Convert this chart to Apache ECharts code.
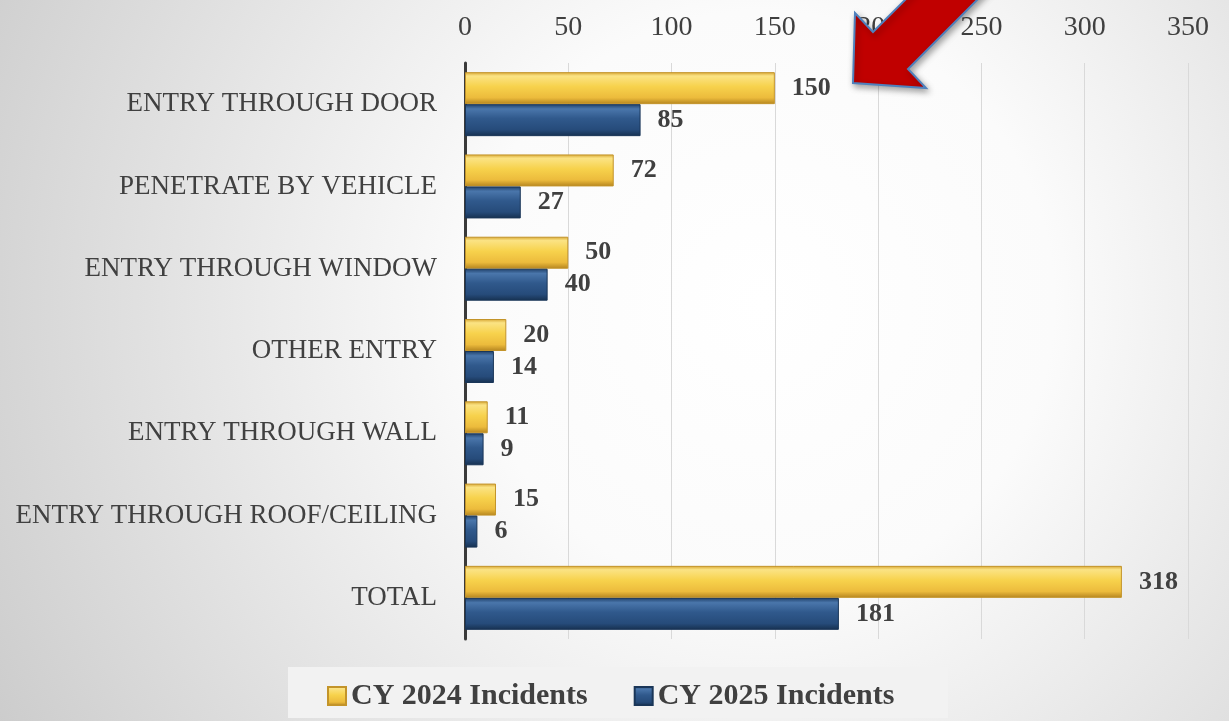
<!DOCTYPE html>
<html>
<head>
<meta charset="utf-8">
<script src="https://cdn.jsdelivr.net/npm/echarts@6/dist/echarts.min.js"></script>
<style>
  html, body { margin: 0; padding: 0; }
  #chart { width: 1229px; height: 721px; }
</style>
</head>
<body>
<div id="chart"></div>
<script>
const categories = [
  "ENTRY THROUGH DOOR",
  "PENETRATE BY VEHICLE",
  "ENTRY THROUGH WINDOW",
  "OTHER ENTRY",
  "ENTRY THROUGH WALL",
  "ENTRY THROUGH ROOF/CEILING",
  "TOTAL",
];
const cy2024 = [150, 72, 50, 20, 11, 15, 318];
const cy2025 = [85, 27, 40, 14, 9, 6, 181];
const seriesNames = ["CY 2024 Incidents", "CY 2025 Incidents"];

const FONT = "Liberation Serif";
const TEXT = "#404040";

const vGrad = (stops) => ({
  type: "linear", x: 0, y: 0, x2: 0, y2: 1,
  colorStops: stops.map(([offset, color]) => ({ offset, color })),
});

const gold = vGrad([
  [0, "#d6a532"], [0.12, "#fbe384"], [0.45, "#f7d24c"],
  [0.8, "#ecbb3c"], [1, "#b4841f"],
]);
const navy = vGrad([
  [0, "#1f3f68"], [0.15, "#4a76ab"], [0.45, "#30598c"],
  [0.8, "#264b7a"], [1, "#16304f"],
]);

const chartDom = document.getElementById("chart");
const myChart = echarts.init(chartDom);

const labelStyle = {
  show: true,
  position: "right",
  distance: 17,
  fontFamily: FONT,
  fontWeight: "bold",
  fontSize: 26,
  color: TEXT,
};

myChart.setOption({
  backgroundColor: {
    type: "radial", x: 0.62, y: 0.42, r: 1.35,
    colorStops: [
      { offset: 0, color: "#ffffff" },
      { offset: 0.3, color: "#fbfbfb" },
      { offset: 1, color: "#c4c4c4" },
    ],
  },
  animation: false,
  grid: { left: 465, right: 41, top: 63, bottom: 82 },
  legend: {
    data: seriesNames,
    top: 676,
    left: 322,
    icon: "rect",
    itemWidth: 18,
    itemHeight: 18,
    itemGap: 46,
    textStyle: { fontFamily: FONT, fontWeight: "bold", fontSize: 30, color: TEXT },
  },
  xAxis: {
    type: "value",
    position: "top",
    min: 0,
    max: 350,
    interval: 50,
    axisLine: { show: false },
    axisTick: { show: false },
    axisLabel: { fontFamily: FONT, fontSize: 28, color: TEXT, margin: 21 },
    splitLine: { lineStyle: { color: "#d9d9d9", width: 1 } },
  },
  yAxis: {
    type: "category",
    data: categories,
    inverse: true,
    axisLine: { show: true, lineStyle: { color: "#3a3a3a", width: 3 } },
    axisTick: { show: false },
    axisLabel: { fontFamily: FONT, fontSize: 27, color: TEXT, margin: 28 },
  },
  series: [
    {
      name: seriesNames[0],
      type: "bar",
      data: cy2024,
      barWidth: 32,
      barGap: "0%",
      itemStyle: { color: gold, borderColor: "#c3942a", borderWidth: 1 },
      label: labelStyle,
    },
    {
      name: seriesNames[1],
      type: "bar",
      data: cy2025,
      barWidth: 32,
      barGap: "0%",
      itemStyle: { color: navy, borderColor: "#1a3658", borderWidth: 1 },
      label: labelStyle,
    },
  ],
  graphic: [
    {
      type: "rect",
      z: -1,
      shape: { x: 288, y: 667, width: 660, height: 51 },
      style: { fill: "#f2f2f2" },
    },
    {
      type: "polygon",
      z: 100,
      shape: {
        points: [
          [873, 32], [855, 13], [853, 83], [926, 88], [908, 69],
          [1007, -30], [935, -30],
        ],
      },
      style: {
        fill: "#c00000",
        stroke: "#4f81bd",
        lineWidth: 2,
        shadowBlur: 6,
        shadowColor: "rgba(0,0,0,0.35)",
        shadowOffsetX: 2,
        shadowOffsetY: 3,
      },
    },
  ],
});
</script>
</body>
</html>
